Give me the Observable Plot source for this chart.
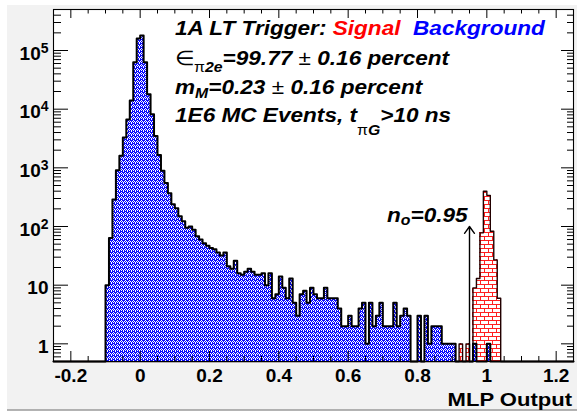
<!DOCTYPE html>
<html><head><meta charset="utf-8">
<script src="https://cdn.jsdelivr.net/npm/d3@7"></script>
<script src="https://cdn.jsdelivr.net/npm/@observablehq/plot@0.6"></script>
<style>
html,body{margin:0;padding:0;background:#fff;}
#chart{width:577px;height:411px;}
svg text{white-space:pre;}
</style></head><body><div id="chart"></div>
<script>
// ---- data ----
const binWidth = 0.01;
const backgroundFirstEdge = -0.1;
const background = [
  10, 64, 290, 910, 1600, 3300, 6700, 14000, 63000, 160000,
  180000, 63000, 18000, 8200, 3500, 1650, 890, 550, 370, 240,
  205, 150, 123, 95, 100, 88, 68, 60, 52, 47,
  43, 41, 36, 32, 36, 21, 19, 26, 16, 15,
  17, 19, 17, 15, 15, 16, 10, 16, 6, 7,
  14, 9, 6, 13, 5, 3, 7, 8, 5, 9,
  7, 6, 6, 9, 6, 6, 6, 4, 2, 2,
  3, 2, 2, 4, 5, 1, 5, 2, 3, 5,
  2, 2, 2, 5, 2, 3, 4, 3, 0, 0,
  3, 0, 3, 1, 2, 2, 2, 1, 1, 1,
  1, 0, 0, 0, 0, 0, 1, 0, 0, 0,
  1
];
const signalFirstEdge = 0.92;
const signal = [1, 0, 1, 0, 9, 13, 78, 400, 340, 83, 27, 6];
const cutValue = 0.95;
const cutArrowTop = 100;
const xDomain = [-0.25, 1.25];
const yDomain = [0.5, 5e5];
const xMajorTicks = [-0.2, 0, 0.2, 0.4, 0.6, 0.8, 1, 1.2];
const yMajorTicks = [1, 10, 100, 1000, 10000, 100000];

// ---- derived ----
const xMinorTicks = d3.range(-5, 26).map(i => i * 0.05).filter(v => !xMajorTicks.some(t => Math.abs(t - v) < 1e-9));
const yMinorTicks = [];
for (const d of [0.1, 1, 10, 100, 1000, 10000, 100000]) for (let m = 2; m <= 9; m++) { const v = m * d; if (v >= yDomain[0] && v <= yDomain[1]) yMinorTicks.push(v); }

function rows(values, first) { return values.map((v, i) => ({x1: first + i * binWidth, x2: first + (i + 1) * binWidth, v})); }
function outline(rs) {
  const f = yDomain[0];
  const pts = [{x: xDomain[0], y: f}, {x: rs[0].x1, y: f}];
  for (const r of rs) { const y = Math.max(r.v, f); pts.push({x: r.x1, y}, {x: r.x2, y}); }
  pts.push({x: rs[rs.length - 1].x2, y: f}, {x: xDomain[1], y: f});
  return pts;
}
const bgRows = rows(background, backgroundFirstEdge);
const sgRows = rows(signal, signalFirstEdge);

const W = 577, H = 411, mL = 53, mR = 4, mT = 9, mB = 50;
const pw = W - mL - mR, ph = H - mT - mB;

const plot = Plot.plot({
  width: W, height: H,
  marginLeft: mL, marginRight: mR, marginTop: mT, marginBottom: mB,
  x: {domain: xDomain, label: null},
  y: {type: "log", domain: yDomain, label: null},
  style: {background: "transparent", fontFamily: "Liberation Sans, Arial, sans-serif", overflow: "visible"},
  marks: [
    Plot.frame({fill: "white", stroke: "none"}),
    Plot.rectY(sgRows.filter(d => d.v > 0), {x1: "x1", x2: "x2", y1: yDomain[0], y2: "v", fill: "url(#brick)", shapeRendering: "crispEdges"}),
    Plot.line(outline(sgRows), {x: "x", y: "y", stroke: "#200", strokeWidth: 1.4}),
    Plot.rectY(bgRows.filter(d => d.v > 0), {x1: "x1", x2: "x2", y1: yDomain[0], y2: "v", fill: "url(#dots)", shapeRendering: "crispEdges"}),
    Plot.line(outline(bgRows), {x: "x", y: "y", stroke: "black", strokeWidth: 2}),
    Plot.arrow([{x: cutValue, y1: yDomain[0], y2: cutArrowTop}], {x1: "x", x2: "x", y1: "y1", y2: "y2", stroke: "black", strokeWidth: 1.4, headAngle: 72, headLength: 9}),
    // ticks (inward)
    Plot.ruleX(xMajorTicks, {x: d => d, insetTop: ph - 10, stroke: "black"}),
    Plot.ruleX(xMinorTicks, {x: d => d, insetTop: ph - 5, stroke: "black"}),
    Plot.ruleX(xMajorTicks, {x: d => d, insetBottom: ph - 9, stroke: "black"}),
    Plot.ruleX(xMinorTicks, {x: d => d, insetBottom: ph - 4.5, stroke: "black"}),
    Plot.ruleY(yMajorTicks, {y: d => d, insetRight: pw - 15, stroke: "black"}),
    Plot.ruleY(yMinorTicks, {y: d => d, insetRight: pw - 8, stroke: "black"}),
    Plot.ruleY(yMajorTicks, {y: d => d, insetLeft: pw - 12, stroke: "black"}),
    Plot.ruleY(yMinorTicks, {y: d => d, insetLeft: pw - 6, stroke: "black"}),
    Plot.frame({stroke: "black", strokeWidth: 1.1}),
    Plot.axisX({ticks: xMajorTicks, tickSize: 0, tickPadding: 7, fontSize: 19, fontWeight: "bold", tickFormat: d => String(d), label: null}),
    Plot.axisY({ticks: yMajorTicks, tickSize: 0, tickPadding: 5, fontSize: 19, fontWeight: "bold", dy: 3,
      tickFormat: d => d >= 100 ? "10^" + Math.round(Math.log10(d)) : String(d), label: null})
  ]
});

const svg = d3.select(plot);
// canvas background
svg.insert("rect", ":first-child").attr("x", 7).attr("y", 5).attr("width", W - 7).attr("height", H - 6).attr("fill", "#f2f2f2");
svg.insert("line", ":nth-child(2)").attr("x1", 7).attr("x2", W).attr("y1", H - 1).attr("y2", H - 1).attr("stroke", "#9a9a9a").attr("stroke-width", 1.5);

// patterns
const defs = svg.insert("defs", ":first-child");
const pd = defs.append("pattern").attr("id", "dots").attr("patternUnits", "userSpaceOnUse").attr("width", 4).attr("height", 4);
pd.append("rect").attr("width", 4).attr("height", 4).attr("fill", "#0a0aff");
for (const [px, py] of [[1, 0], [0, 1], [2, 1], [1, 2], [3, 3], [3, 2]]) pd.append("rect").attr("x", px).attr("y", py).attr("width", 1).attr("height", 1).attr("fill", "#ffffff");
const pb = defs.append("pattern").attr("id", "brick").attr("patternUnits", "userSpaceOnUse").attr("width", 8).attr("height", 8);
pb.append("rect").attr("width", 8).attr("height", 8).attr("fill", "#ffffff");
pb.append("path").attr("d", "M0,0.5H8M0,4.5H8M0.5,0V4M4.5,4V8").attr("stroke", "#ff2020").attr("stroke-width", 1).attr("fill", "none");

// superscripts on y tick labels
svg.selectAll('g[aria-label="y-axis tick label"] text').each(function () {
  const t = d3.select(this);
  const s = t.text();
  if (s.includes("^")) {
    const [base, exp] = s.split("^");
    t.text(base);
    t.append("tspan").attr("dy", -7).attr("font-size", 14).text(exp);
  }
});

// rich text helper
function rich(x, y, parts, {size = 20, sx = 1.13, anchor = "start"} = {}) {
  const t = svg.append("text")
    .attr("transform", `translate(${x},${y}) scale(${sx},1)`)
    .attr("font-family", "Liberation Sans, Arial, sans-serif")
    .attr("font-size", size).attr("text-anchor", anchor).attr("fill", "black");
  let shift = 0;
  for (const p of parts) {
    const ts = t.append("tspan").text(p.t);
    ts.attr("font-weight", p.normal ? "normal" : "bold").attr("font-style", p.normal ? "normal" : "italic");
    if (p.fill) ts.attr("fill", p.fill);
    const target = p.sub || 0;
    if (target !== shift) { ts.attr("dy", target - shift); shift = target; }
    if (p.sub) ts.attr("font-size", p.subSize || 14);
  }
  return t;
}
rich(175, 35, [{t: "1A LT Trigger: "}, {t: "Signal", fill: "#ff0000"}, {t: "  "}, {t: "Background", fill: "#0000ff"}]);
rich(175, 65, [{t: "\u2208", normal: true}, {t: "\u03c0", normal: true, sub: 7}, {t: "2e", sub: 7}, {t: "=99.77 "}, {t: "\u00b1", normal: true}, {t: " 0.16 percent"}]);
rich(175, 94, [{t: "m"}, {t: "M", sub: 4}, {t: "=0.23 "}, {t: "\u00b1", normal: true}, {t: " 0.16 percent"}]);
rich(175, 122, [{t: "1E6 MC Events, t"}, {t: "\u03c0", normal: true, sub: 13}, {t: "G", sub: 13}, {t: ">10 ns"}]);
rich(387, 222, [{t: "n"}, {t: "o", sub: 3}, {t: "=0.95"}]);
rich(572, 406, [{t: "MLP Output", normal: false}], {size: 19, sx: 1.16, anchor: "end"}).select("tspan").attr("font-style", "normal");

document.getElementById("chart").appendChild(plot);
</script></body></html>
